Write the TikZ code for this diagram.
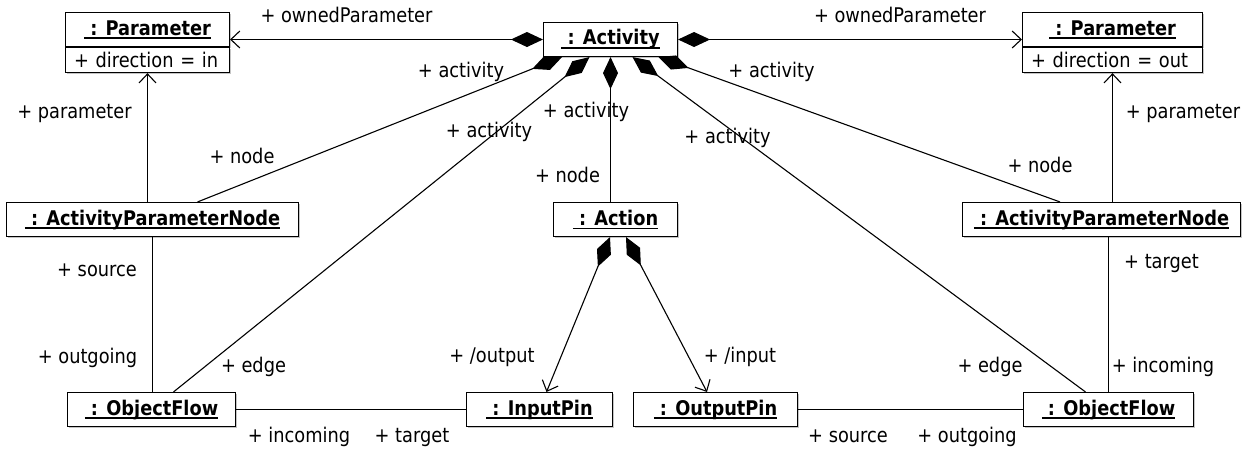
\documentclass[tikz,border=0pt]{standalone}
\usepackage{fontspec}
\setmainfont{DejaVu Sans}[FakeStretch=0.88]
\usepackage{tikz}
\usetikzlibrary{arrows.meta,calc,shadows}

\newcommand\objname[1]{\setbox0\hbox{\ #1}\rlap{\copy0}\rule[-3.6pt]{\wd0}{1.3pt}}

\begin{document}
\begin{tikzpicture}[x=1pt, y=-1pt, line width=1.1pt,
    obj/.style={draw, fill=white, minimum height=34pt, inner sep=0pt,
      font=\fontsize{20.2}{23}\selectfont\bfseries,
      drop shadow={shadow xshift=1.8pt, shadow yshift=-1.8pt, fill=black!45}},
    attr/.style={draw, fill=white, minimum height=25pt, inner xsep=8.5pt, inner ysep=0pt,
      align=left, font=\fontsize{20.2}{23}\selectfont,
      drop shadow={shadow xshift=1.8pt, shadow yshift=-1.8pt, fill=black!45}},
    lbl/.style={font=\fontsize{20.2}{23}\selectfont, inner sep=0pt, text height=15pt, text depth=4pt},
    comp/.style={{Diamond[length=32pt, width=15pt]}-},
    compnav/.style={{Diamond[length=32pt, width=15pt]}-{Straight Barb[length=9pt, width=17pt]}},
    nav/.style={-{Straight Barb[length=9pt, width=17pt]}}]
  \useasboundingbox (0,0) rectangle (1255,451);

  % objects
  \node[obj, minimum width=134pt] (act) at (610.5,39.5) {\objname{: Activity}};
  \node[obj, minimum width=164pt] (parIn) at (147.5,29.5) {\objname{: Parameter}};
  \node[attr, text width=147pt, anchor=north] (parInA) at (parIn.south) {+ direction = in};
  \node[obj, minimum width=180pt] (parOut) at (1112.5,29.5) {\objname{: Parameter}};
  \node[attr, text width=163pt, anchor=north] (parOutA) at (parOut.south) {+ direction = out};
  \node[obj, minimum width=292pt] (apnIn) at (152.5,219.5) {\objname{: ActivityParameterNode}};
  \node[obj, minimum width=124pt] (action) at (615.5,219.5) {\objname{: Action}};
  \node[obj, minimum width=278pt] (apnOut) at (1101.5,219.5) {\objname{: ActivityParameterNode}};
  \node[obj, minimum width=168pt] (flowIn) at (151.5,409.5) {\objname{: ObjectFlow}};
  \node[obj, minimum width=146pt] (inPin) at (539.5,409.5) {\objname{: InputPin}};
  \node[obj, minimum width=164pt] (outPin) at (715.5,409.5) {\objname{: OutputPin}};
  \node[obj, minimum width=170pt] (flowOut) at (1108.5,409.5) {\objname{: ObjectFlow}};

  % links
  \draw[compnav] (act.west) -- (act.west -| parIn.east);
  \draw[compnav] (act.east) -- (act.east -| parOut.west);
  \draw[comp] ([xshift=-48.5pt]act.south) -- ([xshift=45pt]apnIn.north);
  \draw[comp] ([xshift=-21pt]act.south) -- ([xshift=22pt]flowIn.north);
  \draw[comp] (act.south) -- (act.south |- action.north);
  \draw[comp] ([xshift=22pt]act.south) -- ([xshift=-23pt]flowOut.north);
  \draw[comp] ([xshift=48pt]act.south) -- ([xshift=-41.5pt]apnOut.north);
  \draw[nav] (parInA.south |- apnIn.north) -- (parInA.south);
  \draw[nav] (parOutA.south |- apnOut.north) -- (parOutA.south);
  \draw (apnIn.south) -- (apnIn.south |- flowIn.north);
  \draw (flowOut.north) -- (flowOut.north |- apnOut.south);
  \draw (flowIn.east) -- (inPin.west);
  \draw (outPin.east) -- (flowOut.west);
  \draw[compnav] ([xshift=-5.5pt]action.south) -- ([xshift=7pt]inPin.north);
  \draw[compnav] ([xshift=10.5pt]action.south) -- ([xshift=-8.5pt]outPin.north);

  % role names
  \node[lbl] (ownIn) at (346.5,17) {+ ownedParameter};
  \node[lbl] (ownOut) at (900,17) {+ ownedParameter};
  \node[lbl] (parmIn) at (74.5,113) {+ parameter};
  \node[lbl] (parmOut) at (1183,113) {+ parameter};
  \node[lbl] (actA) at (461,72) {+ activity};
  \node[lbl] (nodeA) at (242,158) {+ node};
  \node[lbl] (actB) at (489,132) {+ activity};
  \node[lbl] (actC) at (586,112) {+ activity};
  \node[lbl] (nodeC) at (567.5,177) {+ node};
  \node[lbl] (actD) at (727.5,138) {+ activity};
  \node[lbl] (actE) at (771.5,72) {+ activity};
  \node[lbl] (nodeE) at (1040,167) {+ node};
  \node[lbl] (srcIn) at (97,271) {+ source};
  \node[lbl] (outgIn) at (87.5,358) {+ outgoing};
  \node[lbl] (edgeIn) at (253.5,367) {+ edge};
  \node[lbl] (incIn) at (299,437) {+ incoming};
  \node[lbl] (tgtIn) at (412,437) {+ target};
  \node[lbl] (outp) at (492,357) {+ /output};
  \node[lbl] (inp) at (740,357) {+ /input};
  \node[lbl] (srcOut) at (848,437) {+ source};
  \node[lbl] (outgOut) at (967,437) {+ outgoing};
  \node[lbl] (edgeOut) at (990,367) {+ edge};
  \node[lbl] (incOut) at (1163,367) {+ incoming};
  \node[lbl] (tgtOut) at (1161.5,263) {+ target};
\end{tikzpicture}
\end{document}
